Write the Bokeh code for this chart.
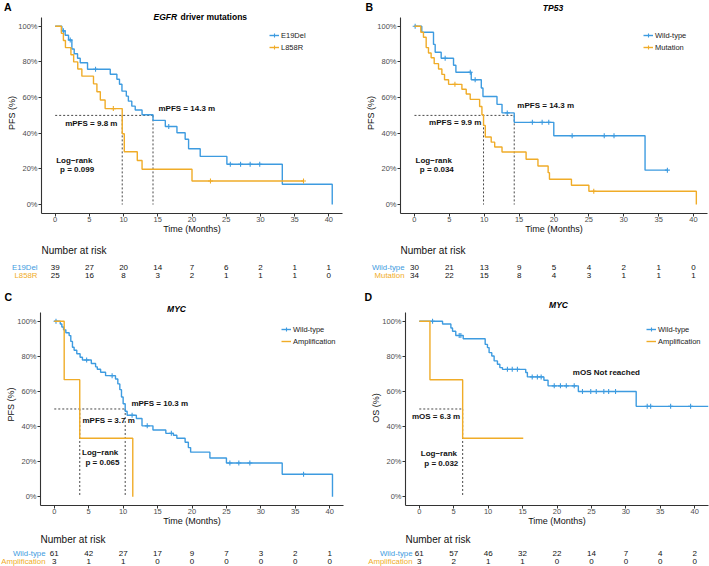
import numpy as np
from bokeh.plotting import figure
from bokeh.models import Range1d, FixedTicker, Label, Legend, LegendItem
from bokeh.layouts import column, row
from bokeh.embed import file_html
from bokeh.resources import INLINE

FONT = "Liberation Sans"
BLUE = "#3D9BE0"
ORANGE = "#F0AC28"
DARK = "#333333"

X_TICKS = [0, 5, 10, 15, 20, 25, 30, 35, 40]
Y_TICKS = [0, 20, 40, 60, 80, 100]
Y_TICK_LABELS = ["0%", "20%", "40%", "60%", "80%", "100%"]
RISK_TIMES = [0, 5, 10, 15, 20, 25, 30, 35, 40]

# ---------------- Panel A: EGFR driver mutations (PFS) ----------------
A_names = ["E19Del", "L858R"]
A_e19_t = [0, 0.98, 1.46, 1.95, 2.44, 2.78, 3.27, 3.66, 4.73, 8.05, 9.02, 9.4, 9.76, 10.4,
           10.7, 11.2, 11.7, 12.7, 14.3, 16.1, 17.8, 19.0, 19.5, 21.2, 25.1, 33.2, 40.5]
A_e19_s = [100, 97.4, 94.9, 92.3, 87.2, 84.6, 82.0, 79.5, 75.9, 73.1, 70.3, 67.5, 63.6, 60.8,
           58.0, 55.2, 53.0, 50.4, 47.2, 43.8, 40.3, 36.6, 31.3, 27.0, 22.6, 11.4, 0]
A_e19_cens = [1.2, 2.2, 5.9, 16.6, 25.6, 27.1, 28.5, 29.9]
A_l858_t = [0, 0.9, 1.2, 1.5, 2.3, 2.7, 3.3, 3.9, 5.6, 6.1, 6.6, 7.3, 9.8, 10.1, 12.0, 12.7, 20.0, 36.3]
A_l858_s = [100, 96, 92, 88, 84, 80, 76, 72, 67.7, 63.3, 58.6, 53.8, 39.7, 29.6, 24.7, 19.8, 13.2, 13.2]
A_l858_cens = [8.5, 22.7, 36.3]
A_medians = [9.8, 14.3]
A_risk_e19 = [39, 27, 20, 14, 7, 6, 2, 1, 1]
A_risk_l858 = [25, 16, 8, 3, 2, 1, 1, 1, 0]

# ---------------- Panel B: TP53 (PFS) ----------------
B_names = ["Wild-type", "Mutation"]
B_wt_t = [0, 1.05, 2.73, 2.97, 3.83, 5.6, 5.94, 8.14, 9.58, 9.82, 11.83, 12.55, 14.3, 19.97, 33.05, 36.25]
B_wt_s = [100, 96.6, 89.8, 85.4, 82.0, 78.1, 74.2, 70.0, 65.4, 60.6, 56.2, 51.4, 46.1, 38.6, 19.3, 19.3]
B_wt_cens = [0.1, 4.4, 8.0, 8.7, 13.3, 16.9, 18.3, 19.25, 22.6, 27.2, 28.6, 36.25]
B_mut_t = [0, 0.91, 1.29, 1.68, 2.01, 2.39, 2.83, 3.45, 3.93, 4.31, 4.89, 6.8, 7.42, 7.99, 9.34,
           9.67, 9.9, 10.15, 11.0, 11.5, 12.55, 16.0, 17.7, 19.16, 19.35, 22.5, 25.0, 40.4]
B_mut_s = [100, 96.6, 93.8, 88.0, 85.0, 82.3, 79.0, 76.0, 73.0, 70.0, 67.4, 64.7, 62.0, 59.0, 55.0,
           50.4, 44.4, 37.9, 35.0, 32.3, 29.5, 25.4, 21.6, 17.9, 14.2, 10.8, 7.5, 0]
B_mut_cens = [5.8, 25.7]
B_medians = [9.9, 14.3]
B_risk_wt = [30, 21, 13, 9, 5, 4, 2, 1, 0]
B_risk_mut = [34, 22, 15, 8, 4, 3, 1, 1, 1]

# ---------------- Panel C: MYC (PFS) ----------------
C_names = ["Wild-type", "Amplification"]
C_wt_t = [0, 0.87, 1.1, 1.35, 1.68, 2.16, 2.4, 2.64, 2.88, 3.27, 3.75, 4.09, 5.38, 6.0, 6.25, 6.73,
          7.45, 8.89, 9.23, 9.52, 9.76, 10.0, 10.3, 10.58, 11.92, 12.74, 14.33, 16.2, 17.3, 17.8,
          19.0, 19.47, 19.8, 22.6, 25.0, 33.1, 40.4]
C_wt_s = [100, 98.4, 96.7, 95.1, 93.4, 91.8, 88.5, 85.2, 83.5, 81.5, 79.5, 77.9, 75.9, 74.0, 72.6, 70.9,
          69.0, 67.1, 64.3, 61.0, 56.8, 53.0, 48.7, 46.4, 44.6, 40.4, 38.0, 36.1, 35.0, 33.3,
          31.0, 28.0, 25.4, 22.1, 19.2, 12.8, 0]
C_wt_cens = [0.25, 4.7, 8.4, 11.3, 13.5, 17.0, 25.5, 26.8, 28.4, 36.2]
C_amp_t = [0, 1.44, 3.7, 11.4]
C_amp_s = [100, 66.7, 33.3, 0]
C_amp_cens = []
C_medians = [3.7, 10.3]
C_risk_wt = [61, 42, 27, 17, 9, 7, 3, 2, 1]
C_risk_amp = [3, 1, 1, 0, 0, 0, 0, 0, 0]

# ---------------- Panel D: MYC (OS) ----------------
D_names = ["Wild-type", "Amplification"]
D_wt_t = [0, 3.38, 4.59, 4.83, 5.3, 6.38, 9.57, 9.9, 10.14, 10.53, 10.87, 11.35, 11.7, 12.08,
          15.46, 15.7, 18.1, 18.7, 23.1, 31.5, 42.0]
D_wt_s = [100, 98.4, 96.2, 94.3, 91.9, 90.0, 86.8, 85.0, 82.1, 80.2, 77.4, 75.5, 73.6, 72.6,
          70.8, 68.3, 66.4, 63.2, 60.0, 51.5, 51.5]
D_wt_cens = [1.93, 5.8, 6.04, 12.8, 13.5, 14.25, 16.4, 17.15, 17.7, 19.6, 20.5, 21.35, 22.5,
             23.7, 24.9, 25.7, 26.8, 27.5, 28.5, 33.1, 33.6, 36.5, 39.4]
D_amp_t = [0, 1.55, 6.3, 15.1]
D_amp_s = [100, 66.7, 33.3, 33.3]
D_amp_cens = []
D_medians = [6.3]
D_risk_wt = [61, 57, 46, 32, 22, 14, 7, 4, 2]
D_risk_amp = [3, 2, 1, 1, 0, 0, 0, 0, 0]

PANEL_H = 283
# layout (panel-local pixels): hh header height, mh main height,
# bl/br frame side borders, ft = y of the 105% level, fb = y of the x axis
PANELS = [
    dict(w=355, hh=12, mh=225, bl=41, br=13, ft=16.8, fb=213, letter=("A", 3.5, 6.0),
         titles=[("EGFR", "bold italic", 153, 16.2, "left"), ("driver mutations", "bold", 180, 16.2, "left")],
         ylabel="PFS (%)", legend=(228, 160),
         groups=[(A_names[0], A_e19_t, A_e19_s, A_e19_cens, BLUE, A_risk_e19),
                 (A_names[1], A_l858_t, A_l858_s, A_l858_cens, ORANGE, A_risk_l858)],
         medians=A_medians, nar=(41, 250), rows=(267, 275), rowlab_x=37,
         notes=[("mPFS = 14.3 m", 15.1, 53.9, "left"), ("mPFS = 9.8 m", 1.46, 45.4, "left"),
                ("Log\u2212rank", 2.8, 24.7, "center"), ("p = 0.099", 3.2, 19.7, "center")]),
    dict(w=354, hh=12, mh=225, bl=45, br=2, ft=16.8, fb=213, letter=("B", 10, 6),
         titles=[("TP53", "bold italic", 197.5, 7.5, "center")],
         ylabel="PFS (%)", legend=(243, 160),
         groups=[(B_names[0], B_wt_t, B_wt_s, B_wt_cens, BLUE, B_risk_wt),
                 (B_names[1], B_mut_t, B_mut_s, B_mut_cens, ORANGE, B_risk_mut)],
         medians=B_medians, nar=(45, 250), rows=(267, 275), rowlab_x=49,
         notes=[("mPFS = 14.3 m", 14.75, 55.5, "left"), ("mPFS = 9.9 m", 2.1, 46.0, "left"),
                ("Log\u2212rank", 2.76, 24.7, "center"), ("p = 0.034", 3.2, 19.7, "center")]),
    dict(w=355, hh=20, mh=225, bl=40, br=12, ft=28.7, fb=222.7, letter=("C", 4, 13.5),
         titles=[("MYC", "bold italic", 176, 26.3, "center")],
         ylabel="PFS (%)", legend=(241, 158),
         groups=[(C_names[0], C_wt_t, C_wt_s, C_wt_cens, BLUE, C_risk_wt),
                 (C_names[1], C_amp_t, C_amp_s, C_amp_cens, ORANGE, C_risk_amp)],
         medians=C_medians, nar=(40, 256), rows=(270, 278), rowlab_x=45,
         notes=[("mPFS = 10.3 m", 11.2, 53.4, "left"), ("mPFS = 3.7 m", 4.1, 43.2, "left"),
                ("Log\u2212rank", 6.66, 25.0, "center"), ("p = 0.065", 7.0, 19.5, "center")]),
    dict(w=354, hh=27, mh=218, bl=50, br=1, ft=28.7, fb=222.7, letter=("D", 9, 13),
         titles=[("MYC", "bold italic", 203, 21, "center")],
         ylabel="OS (%)", legend=(241, 158),
         groups=[(D_names[0], D_wt_t, D_wt_s, D_wt_cens, BLUE, D_risk_wt),
                 (D_names[1], D_amp_t, D_amp_s, D_amp_cens, ORANGE, D_risk_amp)],
         medians=D_medians, nar=(50, 256), rows=(270, 278), rowlab_x=57,
         notes=[("mOS Not reached", 22.3, 70.9, "left"), ("mOS = 6.3 m", -1.06, 45.5, "left"),
                ("Log\u2212rank", 2.85, 24.6, "center"), ("p = 0.032", 3.2, 19.2, "center")]),
]


def blank_fig(w, h, xr):
    f = figure(width=w, height=h, x_range=xr, y_range=Range1d(0, 1), output_backend="svg",
               toolbar_location=None, x_axis_type=None, y_axis_type=None, title=None,
               frame_align=False,
               min_border_left=0, min_border_right=0, min_border_top=0, min_border_bottom=0)
    f.outline_line_color = None
    f.xgrid.visible = False
    f.ygrid.visible = False
    return f


def add_label(fig, sx, sy, text, size, style="normal", align="left", color="black"):
    fig.add_layout(Label(x=sx, y=sy, x_units="screen", y_units="screen", text=text,
                         text_font=FONT, text_font_size=size, text_font_style=style,
                         text_align=align, text_baseline="middle", text_color=color))


def make_panel(cfg):
    W, hh, mh = cfg["w"], cfg["hh"], cfg["mh"]
    th = PANEL_H - hh - mh
    bl, br, ft, fb = cfg["bl"], cfg["br"], cfg["ft"], cfg["fb"]
    frame_w = W - bl - br
    pxpm = frame_w / 44.0
    pxpp = (fb - ft) / 110.0
    fb_i = int(round(fb))
    y_end = -5 + (fb_i - hh) / pxpp

    p = figure(width=W, height=mh, x_range=Range1d(-2, 42), y_range=Range1d(-5, y_end),
               output_backend="svg", toolbar_location=None, title=None, frame_align=False,
               min_border_left=bl, min_border_right=br,
               min_border_top=0, min_border_bottom=hh + mh - fb_i)
    p.outline_line_color = None
    p.xgrid.visible = False
    p.ygrid.visible = False

    for ax in (p.xaxis, p.yaxis):
        ax.axis_line_color = DARK
        ax.axis_line_width = 1.1
        ax.major_tick_line_color = DARK
        ax.major_tick_out = 3
        ax.major_tick_in = 0
        ax.minor_tick_line_color = None
        ax.major_label_text_font = FONT
        ax.major_label_text_font_size = "7.5px"
        ax.major_label_text_color = "#4D4D4D"
        ax.axis_label_text_font = FONT
        ax.axis_label_text_font_size = "9px"
        ax.axis_label_text_font_style = "normal"
        ax.axis_label_text_color = "#111111"
    p.yaxis.bounds = (-5, 105)
    p.xaxis.ticker = FixedTicker(ticks=X_TICKS)
    p.yaxis.ticker = FixedTicker(ticks=Y_TICKS)
    p.yaxis.major_label_overrides = {v: l for v, l in zip(Y_TICKS, Y_TICK_LABELS)}
    p.xaxis.major_label_standoff = 0
    p.yaxis.major_label_standoff = 1
    p.xaxis.axis_label_standoff = -1
    p.yaxis.axis_label_standoff = -2
    p.xaxis.axis_label = "Time (Months)"
    p.yaxis.axis_label = cfg["ylabel"]

    # median lines
    meds = cfg["medians"]
    p.segment(x0=[0], y0=[50], x1=[max(meds)], y1=[50], line_color=DARK, line_width=0.9, line_dash="2 2")
    p.segment(x0=meds, y0=[50] * len(meds), x1=meds, y1=[0] * len(meds),
              line_color=DARK, line_width=0.9, line_dash="2 2")

    items = []
    for name, t, s, cens, color, risk in cfg["groups"]:
        r1 = p.step(t, s, mode="after", line_color=color, line_width=1.4)
        tt = np.array(t)
        cs = [s[int(np.searchsorted(tt, c, side="right")) - 1] for c in cens]
        r2 = p.scatter(list(cens), cs, marker="cross", size=5, line_color=color, line_width=1.1)
        items.append(LegendItem(label=name, renderers=[r1, r2]))

    leg = Legend(items=items, location=cfg["legend"], orientation="vertical",
                 background_fill_alpha=0, border_line_color=None, padding=0, spacing=0, margin=0,
                 glyph_width=10, glyph_height=12, label_height=12, label_width=10, label_standoff=2,
                 label_text_font=FONT, label_text_font_size="7.5px", label_text_color="#222222")
    p.add_layout(leg)

    # annotations in data space
    for text, x, y, align in cfg["notes"]:
        p.add_layout(Label(x=x, y=y, text=text, text_font=FONT, text_font_size="8px",
                           text_font_style="bold", text_align=align, text_baseline="middle",
                           text_color="#111111"))

    # header strip (panel letter, maybe title)
    hdr = blank_fig(W, hh, Range1d(-2 - bl / pxpm, 42 + br / pxpm))
    L, lx, ly = cfg["letter"]
    add_label(hdr, lx, hh - ly, L, "10.5px", "bold")
    for text, style, tx, ty, align in cfg["titles"]:
        if ty < hh:
            add_label(hdr, tx, hh - ty, text, "8.5px", style, align)
        else:
            add_label(p, tx - bl, fb_i - ty, text, "8.5px", style, align)

    # risk table strip (x range mapped so that times line up with the plot above)
    tab = blank_fig(W, th, Range1d(-2 - bl / pxpm, 42 + br / pxpm))
    nx, ny = cfg["nar"]
    add_label(tab, nx, PANEL_H - ny, "Number at risk", "10px", "normal", "left", "#111111")
    for (name, t, s, cens, color, risk), ry in zip(cfg["groups"], cfg["rows"]):
        add_label(tab, cfg["rowlab_x"], PANEL_H - ry, name, "7.8px", "normal", "right", color)
        for tm, n in zip(RISK_TIMES, risk):
            tab.add_layout(Label(x=tm, y=PANEL_H - ry, x_units="data", y_units="screen", text=str(n),
                                 text_font=FONT, text_font_size="8px", text_align="center",
                                 text_baseline="middle", text_color="#111111"))
    return column(hdr, p, tab, spacing=0)


cols = [make_panel(c) for c in PANELS]
layout = column(row(cols[0], cols[1], spacing=0), row(cols[2], cols[3], spacing=0), spacing=0)

open("out.html", "w").write(file_html(layout, INLINE))
